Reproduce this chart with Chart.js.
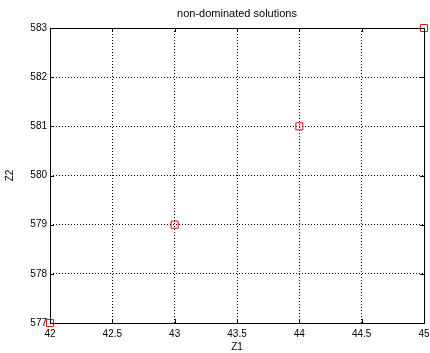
<!DOCTYPE html>
<html><head><meta charset="utf-8">
<script src="https://cdn.jsdelivr.net/npm/chart.js@4"></script>
<style>html,body{margin:0;padding:0;background:#fff}#w{width:430px;height:353px}</style>
</head><body><div id="w"><canvas id="c"></canvas></div>
<script>
const z1Values = [42, 43, 44, 45];
const z2Values = [577, 579, 581, 583];
const xTicks = [42, 42.5, 43, 43.5, 44, 44.5, 45];
const yTicks = [577, 578, 579, 580, 581, 582, 583];
const titleText = 'non-dominated solutions';

const FONT = "'Liberation Sans', Arial, sans-serif";
Chart.defaults.font.family = FONT;
Chart.defaults.font.size = 10;
Chart.defaults.color = '#000';

const boxPlugin = {
  id: 'box',
  afterDatasetsDraw(chart) {
    const {ctx, chartArea: a, scales} = chart;
    ctx.save();
    ctx.strokeStyle = '#000';
    ctx.lineWidth = 1;
    ctx.strokeRect(Math.round(a.left)+0.5, Math.round(a.top)+0.5, Math.round(a.right-a.left), Math.round(a.bottom-a.top));
    ctx.beginPath();
    xTicks.forEach(v => {
      const x = Math.round(scales.x.getPixelForValue(v)) + 0.5;
      ctx.moveTo(x, a.bottom); ctx.lineTo(x, a.bottom - 4);
      ctx.moveTo(x, a.top); ctx.lineTo(x, a.top + 4);
    });
    yTicks.forEach(v => {
      const y = Math.round(scales.y.getPixelForValue(v)) + 0.5;
      ctx.moveTo(a.left, y); ctx.lineTo(a.left + 4, y);
      ctx.moveTo(a.right, y); ctx.lineTo(a.right - 4, y);
    });
    ctx.stroke();
    ctx.fillStyle = '#000';
    ctx.font = "11px " + FONT;
    ctx.textAlign = 'center';
    ctx.textBaseline = 'middle';
    ctx.fillText(titleText, (a.left + a.right) / 2, 14);
    ctx.restore();
  }
};

new Chart(document.getElementById('c'), {
  type: 'scatter',
  data: {
    datasets: [{
      data: z1Values.map((x, i) => ({x, y: z2Values[i]})),
      pointStyle: 'rect',
      pointRadius: 5,
      pointHoverRadius: 5,
      borderColor: '#ff0000',
      backgroundColor: 'rgba(0,0,0,0)',
      borderWidth: 1,
      clip: false
    }]
  },
  options: {
    responsive: true,
    maintainAspectRatio: false,
    animation: false,
    events: [],
    layout: {padding: {left: 0, right: 3.5, top: 28, bottom: 0}},
    plugins: {
      legend: {display: false},
      tooltip: {enabled: false},
      title: {display: false}
    },
    scales: {
      x: {
        type: 'linear', min: 42, max: 45,
        afterBuildTicks: s => { s.ticks = xTicks.map(v => ({value: v})); },
        afterFit: s => { s.height = 30; s.paddingLeft = 0; s.paddingRight = 0; },
        ticks: {padding: 5, maxRotation: 0, autoSkip: false, color: '#000',
          callback: v => String(v)},
        grid: {color: '#000', lineWidth: 1, drawTicks: false},
        border: {display: false, dash: [1, 2]},
        title: {display: true, text: 'Z1', color: '#000', padding: {top: 0, bottom: 0}}
      },
      y: {
        type: 'linear', min: 577, max: 583,
        afterBuildTicks: s => { s.ticks = yTicks.map(v => ({value: v})); },
        afterFit: s => { s.width = 50; s.paddingTop = 0; s.paddingBottom = 0; },
        ticks: {padding: 3, autoSkip: false, color: '#000', callback: v => String(v)},
        grid: {color: '#000', lineWidth: 1, drawTicks: false},
        border: {display: false, dash: [1, 2]},
        title: {display: true, text: 'Z2', color: '#000', padding: {top: 4, bottom: 0}}
      }
    }
  },
  plugins: [boxPlugin]
});
</script>
</body></html>
